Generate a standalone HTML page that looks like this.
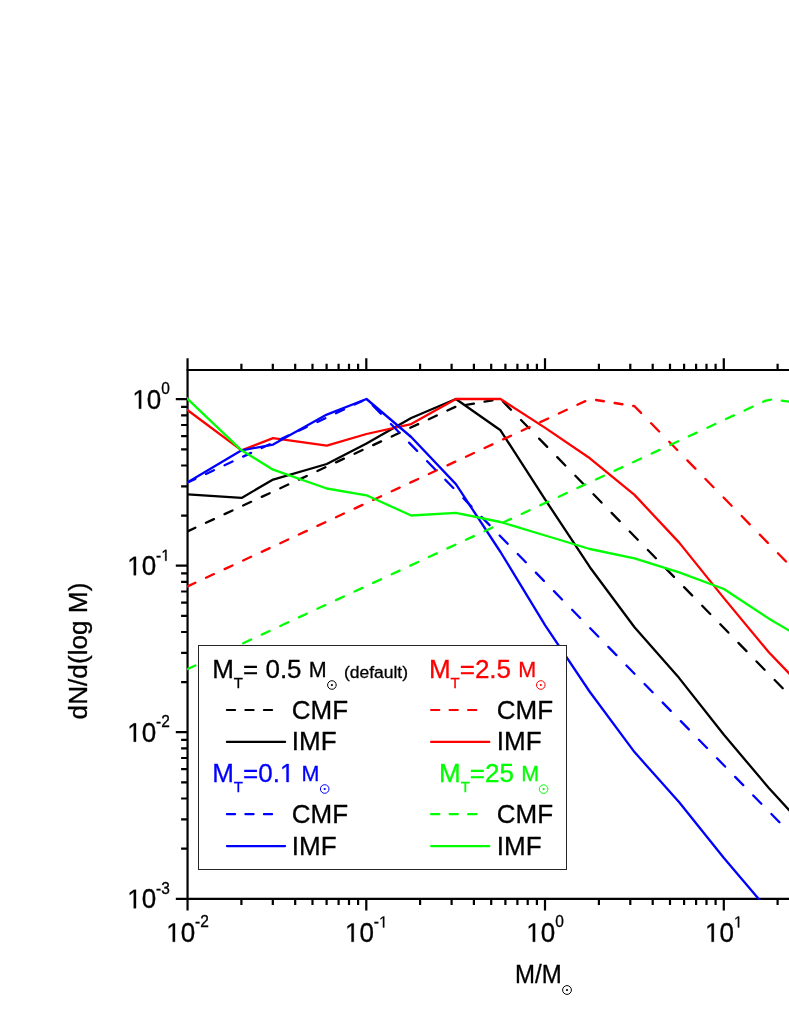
<!DOCTYPE html>
<html><head><meta charset="utf-8"><title>CMF and IMF</title>
<style>html,body{margin:0;padding:0;background:#fff;}body{width:789px;height:1021px;overflow:hidden;}svg{display:block;will-change:transform;}text{font-family:"Liberation Sans",sans-serif;stroke-width:0.3px;}</style>
</head><body>
<svg width="789" height="1021" viewBox="0 0 789 1021">
<rect x="0" y="0" width="789" height="1021" fill="#ffffff"/>
<defs><clipPath id="pc"><rect x="187.05" y="369.00" width="606.45" height="530.75"/></clipPath></defs>
<g stroke="#000" stroke-width="2.2" fill="none" stroke-linecap="butt">
<path d="M186.6 370.0H791"/>
<path d="M175.8 898.8H791"/>
<path d="M187.55 358.3V910.4"/>
<path d="M241.4 898.8V905.0M241.4 370.0V363.8M272.8 898.8V905.0M272.8 370.0V363.8M295.2 898.8V905.0M295.2 370.0V363.8M312.5 898.8V905.0M312.5 370.0V363.8M326.6 898.8V905.0M326.6 370.0V363.8M338.6 898.8V905.0M338.6 370.0V363.8M349.0 898.8V905.0M349.0 370.0V363.8M358.1 898.8V905.0M358.1 370.0V363.8M366.3 898.8V910.4M366.3 370.0V358.3M420.1 898.8V905.0M420.1 370.0V363.8M451.6 898.8V905.0M451.6 370.0V363.8M473.9 898.8V905.0M473.9 370.0V363.8M491.2 898.8V905.0M491.2 370.0V363.8M505.4 898.8V905.0M505.4 370.0V363.8M517.4 898.8V905.0M517.4 370.0V363.8M527.7 898.8V905.0M527.7 370.0V363.8M536.9 898.8V905.0M536.9 370.0V363.8M545.0 898.8V910.4M545.0 370.0V358.3M598.9 898.8V905.0M598.9 370.0V363.8M630.3 898.8V905.0M630.3 370.0V363.8M652.7 898.8V905.0M652.7 370.0V363.8M670.0 898.8V905.0M670.0 370.0V363.8M684.1 898.8V905.0M684.1 370.0V363.8M696.1 898.8V905.0M696.1 370.0V363.8M706.5 898.8V905.0M706.5 370.0V363.8M715.6 898.8V905.0M715.6 370.0V363.8M723.8 898.8V910.4M723.8 370.0V358.3M777.6 898.8V905.0M777.6 370.0V363.8M187.6 848.6H181.1M187.6 819.3H181.1M187.6 798.5H181.1M187.6 782.4H181.1M187.6 769.2H181.1M187.6 758.0H181.1M187.6 748.4H181.1M187.6 739.9H181.1M187.6 732.2H175.8M187.6 682.1H181.1M187.6 652.8H181.1M187.6 632.0H181.1M187.6 615.8H181.1M187.6 602.7H181.1M187.6 591.5H181.1M187.6 581.9H181.1M187.6 573.3H181.1M187.6 565.7H175.8M187.6 515.6H181.1M187.6 486.3H181.1M187.6 465.5H181.1M187.6 449.3H181.1M187.6 436.1H181.1M187.6 425.0H181.1M187.6 415.3H181.1M187.6 406.8H181.1M187.6 399.2H175.8"/>
</g>
<g clip-path="url(#pc)" fill="none" stroke-width="2.3" stroke-linejoin="round">
<path stroke="#000000" stroke-linecap="round" d="M184.70 532.69L195.37 527.73 M206.00 522.79L213.94 519.10 M224.57 514.16L232.51 510.46 M243.14 505.53L251.08 501.83 M261.71 496.89L269.65 493.20 M280.28 488.26L288.22 484.56 M298.85 479.62L306.79 475.93 M317.42 470.99L325.36 467.29 M335.99 462.35L343.93 458.66 M354.56 453.72L362.50 450.02 M373.13 445.09L381.07 441.39 M391.70 436.45L399.64 432.76 M410.27 427.82L418.21 424.12 M428.84 419.18L436.78 415.49 M447.41 410.55L455.35 406.85 M466.04 404.87L473.86 403.54 M484.61 401.71L492.43 400.37 M502.90 401.46L510.96 409.72 M521.02 420.03L529.07 428.29 M539.14 438.60L547.19 446.86 M557.25 457.17L565.31 465.43 M575.37 475.74L583.42 484.00 M593.49 494.31L601.54 502.57 M611.61 512.88L619.66 521.14 M629.72 531.45L637.78 539.71 M647.84 550.02L655.89 558.28 M665.96 568.59L674.01 576.85 M684.07 587.16L692.13 595.42 M702.19 605.73L710.24 613.99 M720.31 624.30L728.36 632.56 M738.42 642.87L746.48 651.13 M756.54 661.44L764.59 669.70 M774.66 680.01L782.71 688.27 M792.78 698.58L800.50 706.50"/>
<polyline stroke="#000000" points="184.7,494.2 187.7,494.4 241.6,497.9 273.1,479.6 326.8,464.0 366.5,443.5 411.2,418.0 455.9,399.0 500.5,430.3 545.2,499.6 589.9,567.2 634.5,627.3 679.2,678.1 723.9,734.7 768.6,787.8 813.3,836.4"/>
<path stroke="#ff0000" stroke-linecap="round" d="M184.70 587.70L195.37 582.73 M206.00 577.78L213.94 574.08 M224.57 569.13L232.51 565.43 M243.14 560.48L251.08 556.78 M261.71 551.84L269.65 548.13 M280.28 543.19L288.22 539.49 M298.85 534.54L306.79 530.84 M317.42 525.89L325.36 522.19 M335.99 517.25L343.93 513.54 M354.56 508.60L362.50 504.90 M373.13 499.95L381.07 496.25 M391.70 491.30L399.64 487.60 M410.27 482.65L418.21 478.95 M428.84 474.01L436.78 470.30 M447.41 465.36L455.35 461.66 M465.98 456.71L473.92 453.01 M484.55 448.06L492.49 444.36 M503.12 439.41L511.06 435.71 M521.69 430.77L529.63 427.06 M540.26 422.12L548.20 418.42 M558.83 413.47L566.77 409.77 M577.40 404.82L585.34 401.12 M596.03 399.99L603.85 401.25 M614.60 402.99L622.42 404.25 M633.17 405.99L634.50 406.20 M634.50 406.20L641.04 412.91 M651.11 423.22L659.16 431.48 M669.22 441.79L677.28 450.05 M687.34 460.36L695.39 468.62 M705.46 478.93L713.51 487.19 M723.58 497.50L731.63 505.76 M741.69 516.07L749.75 524.33 M759.81 534.64L767.86 542.90 M777.93 553.21L785.98 561.47 M796.04 571.78L804.10 580.04"/>
<polyline stroke="#ff0000" points="184.7,408.1 187.7,410.3 241.6,450.3 273.1,438.1 326.8,445.7 366.5,434.0 411.2,424.1 455.9,399.0 500.5,399.0 545.2,427.9 589.9,458.3 634.5,494.9 679.2,542.6 723.9,598.1 768.6,652.0 813.3,698.5"/>
<path stroke="#0000ff" stroke-linecap="round" d="M184.70 483.90L195.38 478.92 M205.99 473.96L213.95 470.24 M224.56 465.28L232.52 461.57 M243.13 456.61L251.09 452.90 M261.70 447.94L269.66 444.23 M280.27 439.27L288.23 435.55 M298.84 430.60L306.80 426.88 M317.41 421.92L325.37 418.21 M335.98 413.25L343.94 409.54 M354.55 404.58L362.51 400.87 M372.81 405.47L380.87 413.73 M390.93 424.04L398.99 432.30 M409.05 442.61L417.10 450.87 M427.17 461.18L435.22 469.44 M445.28 479.75L453.34 488.01 M463.40 498.32L471.45 506.58 M481.52 516.89L489.57 525.15 M499.63 535.46L507.69 543.72 M517.75 554.03L525.80 562.29 M535.87 572.60L543.92 580.86 M553.99 591.17L562.04 599.43 M572.10 609.74L580.16 618.00 M590.22 628.31L598.27 636.57 M608.34 646.88L616.39 655.14 M626.45 665.45L634.51 673.71 M644.57 684.02L652.62 692.28 M662.69 702.59L670.74 710.85 M680.81 721.16L688.86 729.42 M698.92 739.73L706.98 747.99 M717.04 758.30L725.09 766.56 M735.16 776.87L743.21 785.13 M753.27 795.44L761.33 803.70 M771.39 814.01L779.44 822.27"/>
<polyline stroke="#0000ff" points="184.7,484.0 187.7,482.2 241.6,450.3 273.1,444.6 326.8,414.6 366.5,399.0 411.2,437.0 455.9,484.1 500.5,552.0 545.2,625.3 589.9,692.0 634.5,752.1 679.2,802.3 723.9,858.0 768.6,910.6"/>
<path stroke="#00ff00" stroke-linecap="round" d="M184.70 670.39L195.37 665.44 M206.00 660.51L213.94 656.81 M224.57 651.88L232.51 648.19 M243.14 643.26L251.08 639.57 M261.71 634.64L269.65 630.95 M280.28 626.02L288.22 622.32 M298.85 617.39L306.79 613.70 M317.42 608.77L325.36 605.08 M335.99 600.15L343.93 596.46 M354.56 591.53L362.50 587.84 M373.13 582.90L381.07 579.21 M391.70 574.28L399.64 570.59 M410.27 565.66L418.21 561.97 M428.84 557.04L436.78 553.35 M447.41 548.41L455.35 544.72 M465.98 539.79L473.92 536.10 M484.55 531.17L492.49 527.48 M503.12 522.55L511.06 518.86 M521.69 513.92L529.63 510.23 M540.26 505.30L548.20 501.61 M558.83 496.68L566.77 492.99 M577.40 488.06L585.34 484.37 M595.97 479.44L603.91 475.74 M614.54 470.81L622.48 467.12 M633.11 462.19L641.05 458.50 M651.68 453.57L659.62 449.88 M670.25 444.95L678.19 441.26 M688.82 436.32L696.76 432.63 M707.39 427.70L715.33 424.01 M725.96 419.08L733.90 415.39 M744.53 410.46L752.47 406.77 M763.10 401.83L765.00 400.95 M765.00 400.95L770.99 399.58 M781.73 400.68L789.55 401.75 M800.30 403.22L808.12 404.29"/>
<polyline stroke="#00ff00" points="184.7,396.1 187.7,399.0 241.6,450.3 273.1,469.7 326.8,488.5 366.5,495.3 411.2,515.5 455.9,512.9 500.5,522.0 545.2,535.5 589.9,549.0 634.5,558.3 679.2,572.3 723.9,589.0 768.6,618.4 813.3,644.9"/>
</g>
<polygon points="138.90,408.70 138.90,392.52 134.86,395.49 134.86,393.27 139.09,390.28 141.20,390.28 141.20,408.70" fill="#000" stroke="#000" stroke-width="0.3"/><text transform="translate(146.82,408.70) scale(1,1.030)" font-size="26" fill="#000" stroke="#000" xml:space="preserve">0</text><text transform="translate(161.28,394.30) scale(1,1.030)" font-size="15.5" fill="#000" stroke="#000" xml:space="preserve">0</text>
<polygon points="133.74,575.22 133.74,559.04 129.70,562.01 129.70,559.79 133.93,556.79 136.03,556.79 136.03,575.22" fill="#000" stroke="#000" stroke-width="0.3"/><text transform="translate(141.66,575.22) scale(1,1.030)" font-size="26" fill="#000" stroke="#000" xml:space="preserve">0</text><text transform="translate(156.12,560.82) scale(1,1.030)" font-size="15.5" fill="#000" stroke="#000">-</text><polygon points="165.18,560.82 165.18,551.17 162.77,552.94 162.77,551.62 165.29,549.83 166.55,549.83 166.55,560.82" fill="#000" stroke="#000" stroke-width="0.3"/>
<polygon points="133.74,741.73 133.74,725.56 129.70,728.53 129.70,726.30 133.93,723.31 136.03,723.31 136.03,741.73" fill="#000" stroke="#000" stroke-width="0.3"/><text transform="translate(141.66,741.73) scale(1,1.030)" font-size="26" fill="#000" stroke="#000" xml:space="preserve">0</text><text transform="translate(156.12,727.33) scale(1,1.030)" font-size="15.5" fill="#000" stroke="#000" xml:space="preserve">-2</text>
<polygon points="133.74,908.25 133.74,892.07 129.70,895.04 129.70,892.82 133.93,889.83 136.03,889.83 136.03,908.25" fill="#000" stroke="#000" stroke-width="0.3"/><text transform="translate(141.66,908.25) scale(1,1.030)" font-size="26" fill="#000" stroke="#000" xml:space="preserve">0</text><text transform="translate(156.12,893.85) scale(1,1.030)" font-size="15.5" fill="#000" stroke="#000" xml:space="preserve">-3</text>
<polygon points="172.74,941.80 172.74,925.62 168.70,928.59 168.70,926.37 172.93,923.38 175.03,923.38 175.03,941.80" fill="#000" stroke="#000" stroke-width="0.3"/><text transform="translate(180.66,941.80) scale(1,1.030)" font-size="26" fill="#000" stroke="#000" xml:space="preserve">0</text><text transform="translate(195.12,927.40) scale(1,1.030)" font-size="15.5" fill="#000" stroke="#000" xml:space="preserve">-2</text>
<polygon points="351.49,941.80 351.49,925.62 347.45,928.59 347.45,926.37 351.68,923.38 353.78,923.38 353.78,941.80" fill="#000" stroke="#000" stroke-width="0.3"/><text transform="translate(359.41,941.80) scale(1,1.030)" font-size="26" fill="#000" stroke="#000" xml:space="preserve">0</text><text transform="translate(373.87,927.40) scale(1,1.030)" font-size="15.5" fill="#000" stroke="#000">-</text><polygon points="382.93,927.40 382.93,917.76 380.52,919.53 380.52,918.20 383.04,916.42 384.30,916.42 384.30,927.40" fill="#000" stroke="#000" stroke-width="0.3"/>
<polygon points="532.82,941.80 532.82,925.62 528.78,928.59 528.78,926.37 533.01,923.38 535.12,923.38 535.12,941.80" fill="#000" stroke="#000" stroke-width="0.3"/><text transform="translate(540.74,941.80) scale(1,1.030)" font-size="26" fill="#000" stroke="#000" xml:space="preserve">0</text><text transform="translate(555.20,927.40) scale(1,1.030)" font-size="15.5" fill="#000" stroke="#000" xml:space="preserve">0</text>
<polygon points="711.57,941.80 711.57,925.62 707.53,928.59 707.53,926.37 711.76,923.38 713.87,923.38 713.87,941.80" fill="#000" stroke="#000" stroke-width="0.3"/><text transform="translate(719.49,941.80) scale(1,1.030)" font-size="26" fill="#000" stroke="#000" xml:space="preserve">0</text><polygon points="737.85,927.40 737.85,917.76 735.44,919.53 735.44,918.20 737.96,916.42 739.22,916.42 739.22,927.40" fill="#000" stroke="#000" stroke-width="0.3"/>
<text transform="translate(515.0,982.9) scale(1,1.04)" font-size="24" stroke="#000">M/M</text>
<g fill="none" stroke="#000" stroke-width="1"><circle cx="567" cy="990" r="4.4"/></g><circle cx="567" cy="990" r="1.1" fill="#000"/>
<text transform="translate(86.5,651) rotate(-90) scale(1,1.0)" font-size="26.2" text-anchor="middle" stroke="#000">dN/d(log M)</text>
 <rect x="198.5" y="645.5" width="368" height="224" fill="#fff" stroke="#262626" stroke-width="1"/>
<text transform="translate(212.20,678.10) scale(1,1.010)" font-size="26" fill="#000" stroke="#000" xml:space="preserve">M</text><text transform="translate(233.86,687.70) scale(1,1.010)" font-size="15" fill="#000" stroke="#000" xml:space="preserve">T</text><text transform="translate(243.02,678.10) scale(1,1.010)" font-size="26" fill="#000" stroke="#000" xml:space="preserve">= 0.5 </text><text transform="translate(308.80,677.10) scale(1,1.010)" font-size="21.5" fill="#000" stroke="#000" xml:space="preserve">M</text>
<circle cx="331.9" cy="685.0" r="4.3" fill="none" stroke="#000" stroke-width="1"/><circle cx="331.9" cy="685.0" r="1.1" fill="#000"/>
<text transform="translate(343.9,678.2) scale(1,0.95)" font-size="17.5" fill="#000" stroke="#000">(default)</text>
<text transform="translate(428.90,678.30) scale(1,1.010)" font-size="26" fill="#ff0000" stroke="#ff0000" xml:space="preserve">M</text><text transform="translate(450.56,687.90) scale(1,1.010)" font-size="15" fill="#ff0000" stroke="#ff0000" xml:space="preserve">T</text><text transform="translate(459.72,678.30) scale(1,1.010)" font-size="26" fill="#ff0000" stroke="#ff0000" xml:space="preserve">=2.5 </text><text transform="translate(518.27,677.30) scale(1,1.010)" font-size="21.5" fill="#ff0000" stroke="#ff0000" xml:space="preserve">M</text>
<circle cx="540.8" cy="685.0" r="4.3" fill="none" stroke="#ff0000" stroke-width="1"/><circle cx="540.8" cy="685.0" r="1.1" fill="#ff0000"/>
<text transform="translate(212.20,782.10) scale(1,1.010)" font-size="26" fill="#0000ff" stroke="#0000ff" xml:space="preserve">M</text><text transform="translate(233.86,791.70) scale(1,1.010)" font-size="15" fill="#0000ff" stroke="#0000ff" xml:space="preserve">T</text><text transform="translate(243.02,782.10) scale(1,1.010)" font-size="26" fill="#0000ff" stroke="#0000ff">=0.</text><polygon points="286.43,782.10 286.43,766.24 282.39,769.15 282.39,766.97 286.62,764.03 288.72,764.03 288.72,782.10" fill="#0000ff" stroke="#0000ff" stroke-width="0.3"/><text transform="translate(294.35,782.10) scale(1,1.010)" font-size="26" fill="#0000ff" stroke="#0000ff" xml:space="preserve"> </text><text transform="translate(301.57,781.10) scale(1,1.010)" font-size="21.5" fill="#0000ff" stroke="#0000ff" xml:space="preserve">M</text>
<circle cx="324.7" cy="789.0" r="4.3" fill="none" stroke="#0000ff" stroke-width="1"/><circle cx="324.7" cy="789.0" r="1.1" fill="#0000ff"/>
<text transform="translate(439.00,781.90) scale(1,1.010)" font-size="26" fill="#00ff00" stroke="#00ff00" xml:space="preserve">M</text><text transform="translate(460.66,791.50) scale(1,1.010)" font-size="15" fill="#00ff00" stroke="#00ff00" xml:space="preserve">T</text><text transform="translate(469.82,781.90) scale(1,1.010)" font-size="26" fill="#00ff00" stroke="#00ff00" xml:space="preserve">=25 </text><text transform="translate(521.15,780.90) scale(1,1.010)" font-size="21.5" fill="#00ff00" stroke="#00ff00" xml:space="preserve">M</text>
<circle cx="543.6" cy="789.1" r="4.3" fill="none" stroke="#00ff00" stroke-width="1"/><circle cx="543.6" cy="789.1" r="1.1" fill="#00ff00"/>
<path d="M226.9 710.0h8.2m10.3 0h8.2m10.3 0h8.2" stroke="#000" stroke-width="2.2" stroke-linecap="round" fill="none"/>
<text transform="translate(291.8,718.7) scale(1,1.01)" font-size="26" fill="#000" stroke="#000">CMF</text>
<path d="M431.1 710.0h8.2m10.3 0h8.2m10.3 0h8.2" stroke="#ff0000" stroke-width="2.2" stroke-linecap="round" fill="none"/>
<text transform="translate(496.8,718.7) scale(1,1.01)" font-size="26" fill="#000" stroke="#000">CMF</text>
<path d="M226.9 741.9h58.2" stroke="#000" stroke-width="2.2" stroke-linecap="round" fill="none"/>
<text transform="translate(291.8,749.9) scale(1,1.01)" font-size="26" fill="#000" stroke="#000">IMF</text>
<path d="M431.1 741.9h58.2" stroke="#ff0000" stroke-width="2.2" stroke-linecap="round" fill="none"/>
<text transform="translate(496.8,749.9) scale(1,1.01)" font-size="26" fill="#000" stroke="#000">IMF</text>
<path d="M226.9 814.2h8.2m10.3 0h8.2m10.3 0h8.2" stroke="#0000ff" stroke-width="2.2" stroke-linecap="round" fill="none"/>
<text transform="translate(291.8,822.8) scale(1,1.01)" font-size="26" fill="#000" stroke="#000">CMF</text>
<path d="M431.1 814.2h8.2m10.3 0h8.2m10.3 0h8.2" stroke="#00ff00" stroke-width="2.2" stroke-linecap="round" fill="none"/>
<text transform="translate(496.8,822.8) scale(1,1.01)" font-size="26" fill="#000" stroke="#000">CMF</text>
<path d="M226.9 846.1h58.2" stroke="#0000ff" stroke-width="2.2" stroke-linecap="round" fill="none"/>
<text transform="translate(291.8,854.9) scale(1,1.01)" font-size="26" fill="#000" stroke="#000">IMF</text>
<path d="M431.1 846.1h58.2" stroke="#00ff00" stroke-width="2.2" stroke-linecap="round" fill="none"/>
<text transform="translate(496.8,854.9) scale(1,1.01)" font-size="26" fill="#000" stroke="#000">IMF</text>
</svg></body></html>
